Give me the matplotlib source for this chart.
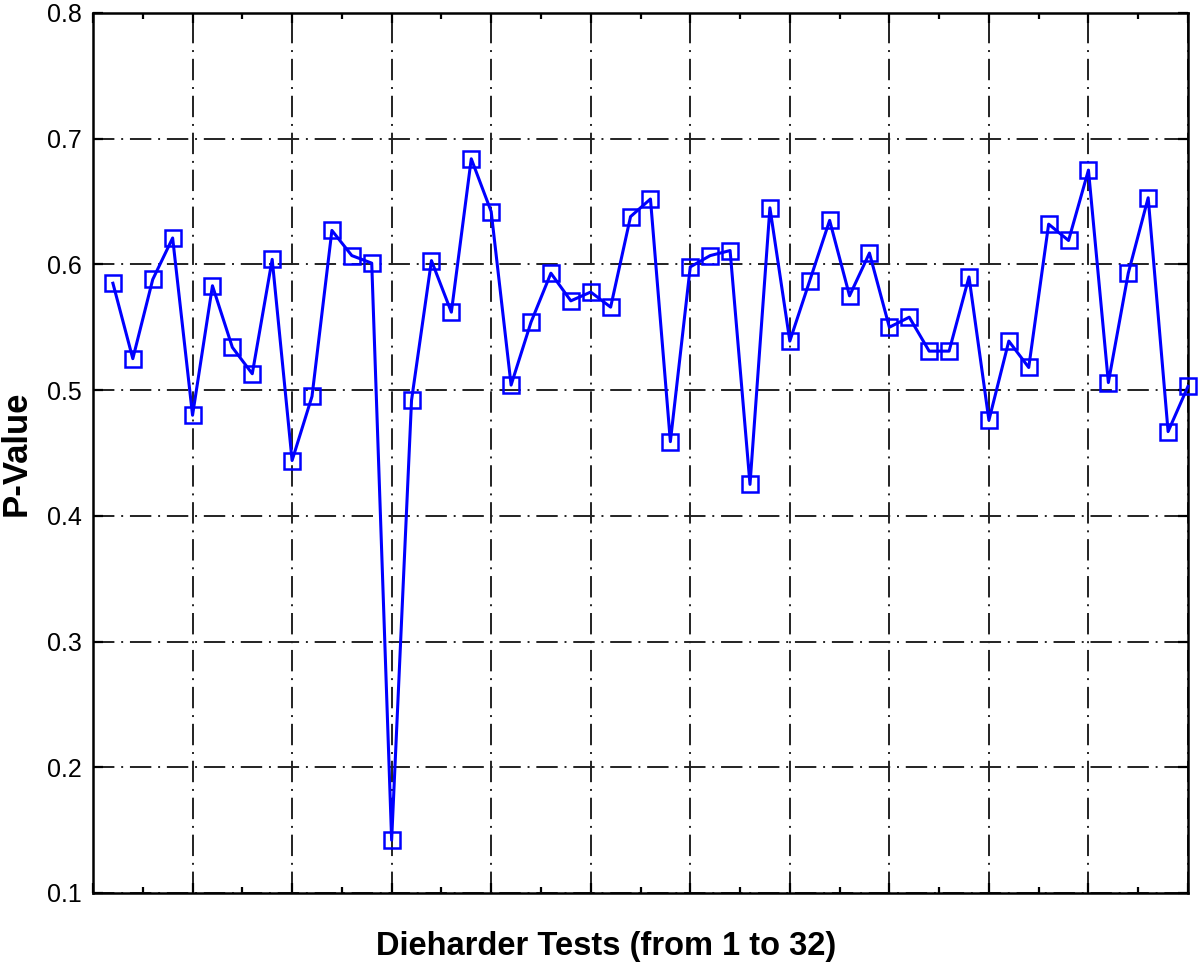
import matplotlib
matplotlib.use("Agg")
import matplotlib.pyplot as plt
from matplotlib.ticker import MultipleLocator, NullFormatter
import numpy as np

plt.rcParams['font.family'] = ['Liberation Sans', 'DejaVu Sans']

# 55 test results, plotted at positions 0.2, 0.4, ..., 11.0
positions = [round(0.2 * (i + 1), 1) for i in range(55)]
p_values = [
    0.585, 0.525, 0.588, 0.621, 0.480, 0.583, 0.534, 0.513, 0.604, 0.444,
    0.495, 0.627, 0.607, 0.601, 0.142, 0.492, 0.603, 0.562, 0.684, 0.642,
    0.504, 0.554, 0.593, 0.571, 0.578, 0.566, 0.638, 0.652, 0.459, 0.598,
    0.607, 0.611, 0.425, 0.645, 0.539, 0.587, 0.635, 0.575, 0.609, 0.550,
    0.558, 0.531, 0.531, 0.590, 0.476, 0.539, 0.518, 0.632, 0.619, 0.675,
    0.506, 0.593, 0.653, 0.467, 0.503,
]
y_ticks = [0.1, 0.2, 0.3, 0.4, 0.5, 0.6, 0.7, 0.8]

fig = plt.figure(figsize=(12, 9.74), dpi=100)
ax = fig.add_axes([0.0775, 0.0832, 0.9125, 0.9035])

ax.plot(positions, p_values, color='#0000ff', linewidth=2.2, marker='s',
        markersize=11, markerfacecolor='none', markeredgecolor='#0000ff',
        markeredgewidth=1.8, zorder=3, clip_on=False)

ax.set_xlim(0, 11)
ax.set_ylim(0.1, 0.8)
ax.set_yticks(y_ticks)
ax.set_yticklabels([f"{v:.1f}" for v in y_ticks])
ax.xaxis.set_major_locator(MultipleLocator(1))
ax.xaxis.set_minor_locator(MultipleLocator(0.5))
ax.xaxis.set_major_formatter(NullFormatter())

ax.grid(True, which='major', color='#222222', linestyle=(0, (11, 3.5, 1, 3.5)),
        linewidth=1.4)
ax.tick_params(axis='both', which='major', direction='in', length=7, width=1.6,
               top=True, right=True, labelsize=18, pad=8)
ax.tick_params(axis='x', which='minor', direction='in', length=4, width=1.6,
               top=True, bottom=True)
for s in ax.spines.values():
    s.set_linewidth(1.8)

ax.set_xlabel('Dieharder Tests (from 1 to 32)', fontsize=23.5, fontweight='bold')
ax.xaxis.set_label_coords(0.4685, -0.043)
ax.set_ylabel('P-Value', fontsize=25, fontweight='bold', labelpad=10)

fig.savefig('out.png', dpi=100)
